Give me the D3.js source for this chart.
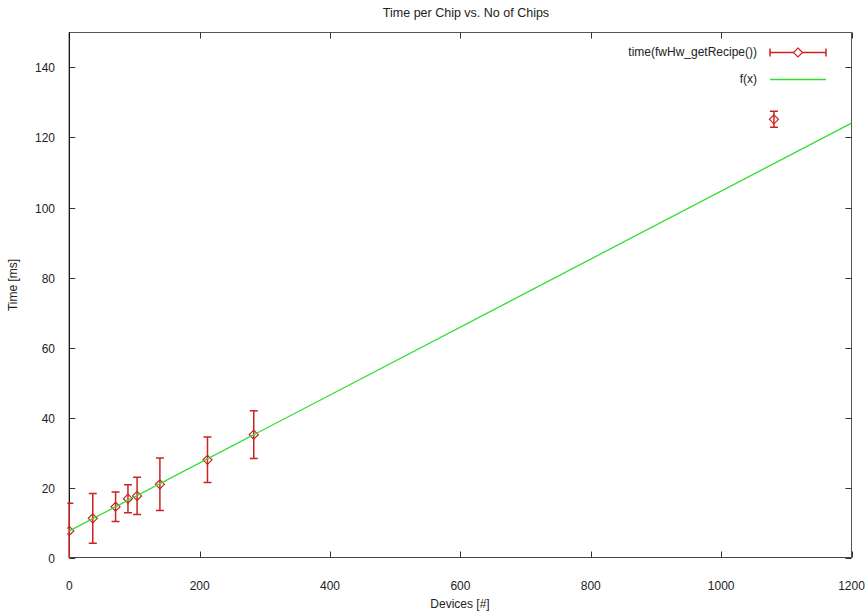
<!DOCTYPE html>
<html><head><meta charset="utf-8">
<script src="https://cdn.jsdelivr.net/npm/d3@7"></script>
<style>body{margin:0;background:#fff}svg{display:block}text{font-family:"Liberation Sans",Arial,sans-serif;fill:#222}</style>
</head><body><svg id="c" width="865" height="614"></svg>
<script>
const devices = [0, 36, 71, 90, 104, 139, 212, 283, 1081];
const timeMs  = [7.6, 11.2, 14.5, 16.8, 17.6, 20.9, 27.9, 35.1, 125.2];
const errMs   = [7.9, 7.1, 4.2, 4.0, 5.3, 7.5, 6.5, 6.8, 2.3];
const fitX = [0, 1200];
const fitY = [7.6, 124.1];
const xTicks = [0, 200, 400, 600, 800, 1000, 1200];
const yTicks = [0, 20, 40, 60, 80, 100, 120, 140];

const svg = d3.select("#c");
const L = 69.3, R = 851.5, T = 32.5, B = 557.5;
const x = d3.scaleLinear().domain([0, 1200]).range([L, R]);
const y = d3.scaleLinear().domain([0, 150]).range([B, T]);
const red = "#cc2222", green = "#33dd33";

// frame
svg.append("rect").attr("x", L).attr("y", T).attr("width", R - L).attr("height", B - T)
  .attr("fill", "none").attr("stroke", "#555").attr("stroke-width", 1);

const tl = 6;
const ax = svg.append("g").attr("font-size", 12);
xTicks.forEach(v => {
  const px = Math.round(x(v)) + 0.5;
  ax.append("line").attr("x1", px).attr("x2", px).attr("y1", B).attr("y2", B - tl).attr("stroke", "#333");
  ax.append("line").attr("x1", px).attr("x2", px).attr("y1", T).attr("y2", T + tl).attr("stroke", "#333");
  ax.append("text").attr("x", x(v)).attr("y", 590).attr("text-anchor", "middle").text(v);
});
yTicks.forEach(v => {
  const py = Math.round(y(v)) + 0.5;
  ax.append("line").attr("x1", L).attr("x2", L + tl).attr("y1", py).attr("y2", py).attr("stroke", "#333");
  ax.append("line").attr("x1", R).attr("x2", R - tl).attr("y1", py).attr("y2", py).attr("stroke", "#333");
  ax.append("text").attr("x", 55).attr("y", py + 4.5).attr("text-anchor", "end").text(v);
});
// zero axes
svg.append("line").attr("x1", L).attr("x2", L).attr("y1", T).attr("y2", B).attr("stroke", "#000");
svg.append("line").attr("x1", L).attr("x2", R).attr("y1", B).attr("y2", B).attr("stroke", "#444");

svg.append("text").attr("x", 466).attr("y", 17).attr("text-anchor", "middle").attr("font-size", 12.5).text("Time per Chip vs. No of Chips");
svg.append("text").attr("x", 460).attr("y", 608).attr("text-anchor", "middle").attr("font-size", 12).text("Devices [#]");
svg.append("text").attr("transform", "translate(17,285) rotate(-90)").attr("text-anchor", "middle").attr("font-size", 12).text("Time [ms]");

// clip
svg.append("clipPath").attr("id", "clip").append("rect").attr("x", L - 2).attr("y", T).attr("width", R - L + 2).attr("height", B - T);
const plot = svg.append("g").attr("clip-path", "url(#clip)");

const cap = 4, ds = 4.5;
const diamond = (cx, cy) => `M${cx},${cy - ds}L${cx + ds},${cy}L${cx},${cy + ds}L${cx - ds},${cy}Z`;
devices.forEach((d, i) => {
  const cx = x(d), lo = y(timeMs[i] - errMs[i]), hi = y(timeMs[i] + errMs[i]), cy = y(timeMs[i]);
  const g = plot.append("g").attr("stroke", red).attr("stroke-width", 1.5).attr("fill", "none");
  g.append("line").attr("x1", cx).attr("x2", cx).attr("y1", Math.min(lo, B)).attr("y2", hi);
  g.append("line").attr("x1", cx - cap).attr("x2", cx + cap).attr("y1", lo).attr("y2", lo);
  g.append("line").attr("x1", cx - cap).attr("x2", cx + cap).attr("y1", hi).attr("y2", hi);
  g.append("path").attr("d", diamond(cx, cy)).attr("stroke-width", 1.2);
});
plot.append("path").datum(fitX.map((v, i) => [v, fitY[i]]))
  .attr("d", d3.line().x(d => x(d[0])).y(d => y(d[1])))
  .attr("stroke", green).attr("stroke-width", 1.3).attr("fill", "none");

// legend
const lg = svg.append("g").attr("font-size", 12);
lg.append("text").attr("x", 757).attr("y", 56).attr("text-anchor", "end").text("time(fwHw_getRecipe())");
lg.append("text").attr("x", 757).attr("y", 83).attr("text-anchor", "end").text("f(x)");
const ly = 52.5;
const lgE = lg.append("g").attr("stroke", red).attr("stroke-width", 1.5).attr("fill", "none");
lgE.append("line").attr("x1", 770).attr("x2", 826).attr("y1", ly).attr("y2", ly);
lgE.append("line").attr("x1", 770).attr("x2", 770).attr("y1", ly - cap).attr("y2", ly + cap);
lgE.append("line").attr("x1", 826).attr("x2", 826).attr("y1", ly - cap).attr("y2", ly + cap);
lgE.append("path").attr("d", diamond(798, ly)).attr("fill", "#fff").attr("stroke-width", 1.2);
lg.append("line").attr("x1", 770).attr("x2", 826).attr("y1", 79.5).attr("y2", 79.5).attr("stroke", green).attr("stroke-width", 1.3);
</script></body></html>
